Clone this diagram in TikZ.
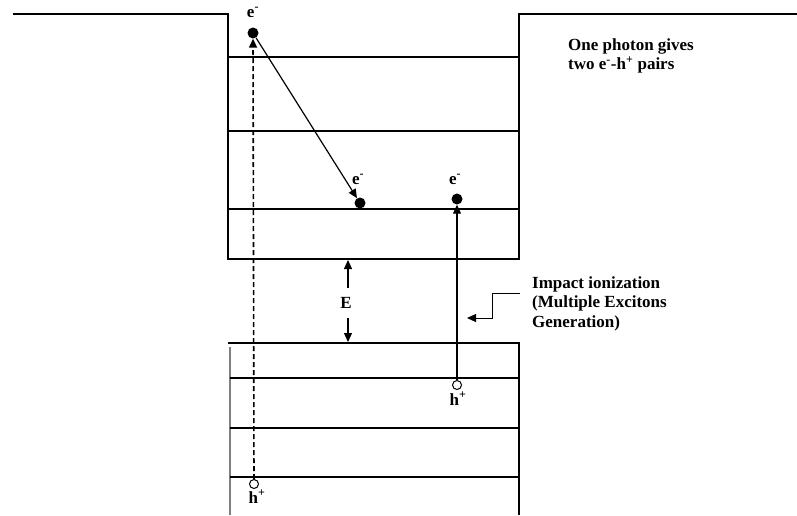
\documentclass[tikz,border=0pt]{standalone}
\usepackage{fontspec}
\setmainfont{Liberation Serif}
\usetikzlibrary{arrows.meta}

\begin{document}
\begin{tikzpicture}[x=1pt, y=-1pt,
    level/.style={line width=1.2pt},
    wall/.style={line width=1.4pt},
    electron/.style={circle, fill, inner sep=0pt, minimum size=11pt},
    hole/.style={circle, draw, line width=1pt, inner sep=0pt, minimum size=9pt},
    carrier/.style={font=\fontsize{17}{19}\selectfont\bfseries, inner sep=0pt},
    note/.style={font=\fontsize{17}{19.5}\selectfont\bfseries, align=left, inner sep=0pt},
    tip/.style={-{Triangle[length=9pt,width=8pt]}, line width=1.2pt}]
    \useasboundingbox (0,0) rectangle (797,515);

    % outer walls
    \draw [wall] (13,14) -- (228,14) -- (228,259) -- (519,259) -- (519,14) -- (797,14);
    % upper levels
    \foreach \y in {57, 131, 209}
      \draw [level] (228,\y) -- (519,\y);
    % lower box
    \draw [wall] (228,343) -- (519,343) -- (519,515);
    \draw [line width=2.4pt, gray] (230,347) -- (230,515);
    \foreach \y in {378, 428, 477}
      \draw [level] (230,\y) -- (519,\y);

    % carriers
    \node[electron](e1) at (253,33){};
    \node[electron](e2) at (360,203){};
    \node[electron](e3) at (457,199){};
    \node[hole](h1) at (457,385){};
    \node[hole](h2) at (254,484){};

    \node[carrier, anchor=base](le1) at (253,17){e\textsuperscript{-}};
    \node[carrier, anchor=base](le2) at (358,184){e\textsuperscript{-}};
    \node[carrier, anchor=base](le3) at (455,184){e\textsuperscript{-}};
    \node[carrier, anchor=base](lh1) at (458,405){h\textsuperscript{+}};
    \node[carrier, anchor=base](lh2) at (257,503){h\textsuperscript{+}};

    % photon excitation and relaxation
    \draw [tip, line width=1.6pt, dash pattern=on 5pt off 3pt] (h2) -- (e1);
    \draw [tip] (e1) -- (e2);
    % impact ionization
    \draw [tip] (h1) -- (e3);

    % band gap
    \node[carrier](E) at (346,303){E};
    \coordinate (gaptop) at (348,260);
    \coordinate (gapbot) at (348,342);
    \draw [tip] (348,288) -- (gaptop);
    \draw [tip] (348,318) -- (gapbot);

    % notes
    \node[note, anchor=north west](photon) at (568,38)
      {One photon gives\\two e\textsuperscript{-}-h\textsuperscript{+} pairs};
    \node[note, anchor=north west](impact) at (532,276)
      {Impact ionization\\(Multiple Excitons\\Generation)};
    \coordinate (ptrstart) at (520,293);
    \coordinate (ptrtip) at (467,318);
    \draw [tip, line width=1pt] (ptrstart) -- (492,293) |- (ptrtip);
\end{tikzpicture}
\end{document}
